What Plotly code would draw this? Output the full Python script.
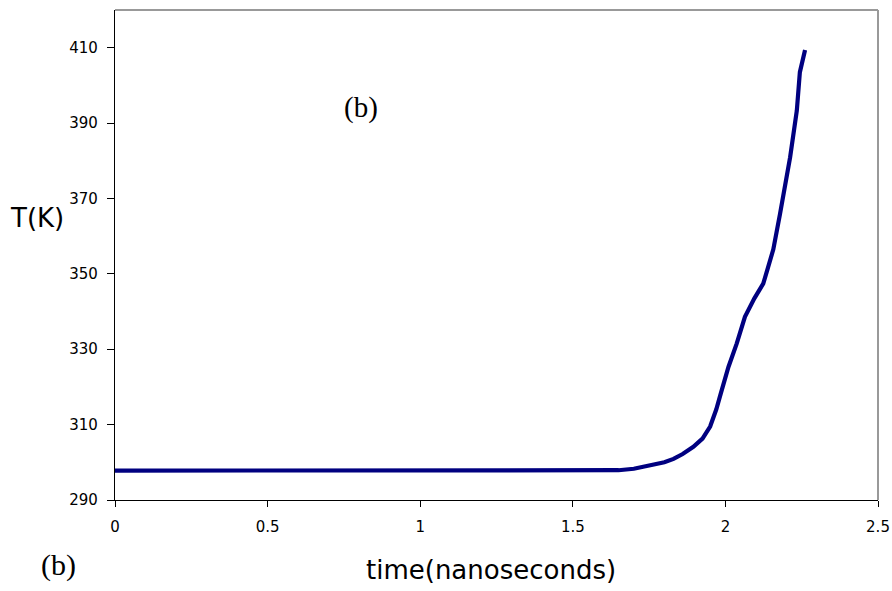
import plotly.graph_objects as go

time_ns = [0, 0.1, 0.2, 0.3, 0.4, 0.5, 0.6, 0.7, 0.8, 0.9, 1.0, 1.1, 1.2, 1.3, 1.4,
           1.5, 1.6, 1.65, 1.7, 1.75, 1.8, 1.83, 1.86, 1.895, 1.925, 1.95, 1.97, 1.985,
           2.01, 2.037, 2.064, 2.095, 2.124, 2.14, 2.157, 2.179, 2.195, 2.212, 2.234,
           2.244, 2.261]
temp_k = [297.8, 297.8, 297.7, 297.7, 297.8, 297.8, 297.7, 297.7, 297.7, 297.7, 297.7,
          297.7, 297.7, 297.7, 297.7, 297.8, 297.8, 297.9, 298.3, 299.1, 300.0, 300.9,
          302.2, 304.1, 306.3, 309.5, 314.0, 318.3, 325.3, 331.5, 338.6, 343.5, 347.4,
          351.8, 356.5, 365.9, 373.0, 380.9, 393.3, 403.5, 409.4]

x_ticks = [0, 0.5, 1, 1.5, 2, 2.5]
x_tick_labels = ["0", "0.5", "1", "1.5", "2", "2.5"]
y_ticks = [290, 310, 330, 350, 370, 390, 410]
y_tick_labels = ["290", "310", "330", "350", "370", "390", "410"]

tick_font = dict(family="DejaVu Sans", size=15, color="black")

fig = go.Figure()
fig.add_trace(go.Scatter(x=time_ns, y=temp_k, mode="lines",
                         line=dict(color="#000080", width=4.2), showlegend=False,
                         hoverinfo="skip"))

fig.update_layout(
    width=892, height=591,
    margin=dict(l=115, r=14, t=10, b=91),
    paper_bgcolor="white", plot_bgcolor="white",
    xaxis=dict(range=[0, 2.5], tickvals=x_ticks, ticktext=x_tick_labels,
               showgrid=False, zeroline=False, showline=True, linecolor="black",
               linewidth=1.3, ticks="outside", ticklen=6, tickwidth=1.3,
               tickcolor="black", tickfont=tick_font, automargin=False,
               ticklabelstandoff=7),
    yaxis=dict(range=[290, 420], tickvals=y_ticks, ticktext=y_tick_labels,
               showgrid=False, zeroline=False, showline=True, linecolor="black",
               linewidth=1.3, ticks="outside", ticklen=7, tickwidth=1.3,
               tickcolor="black", tickfont=tick_font, ticklabelstandoff=6,
               automargin=False),
    shapes=[
        dict(type="line", xref="paper", yref="paper", x0=0, x1=1, y0=1, y1=1,
             line=dict(color="#999999", width=2)),
        dict(type="line", xref="paper", yref="paper", x0=1, x1=1, y0=0, y1=1,
             line=dict(color="#999999", width=2)),
    ],
    annotations=[
        dict(text="T(K)", xref="paper", yref="paper", x=-0.102, y=0.5755,
             showarrow=False, font=dict(family="DejaVu Sans", size=26, color="black"),
             xanchor="center", yanchor="middle"),
        dict(text="time(nanoseconds)", xref="paper", yref="paper", x=0.4928, y=-0.143,
             showarrow=False, font=dict(family="DejaVu Sans", size=26, color="black"),
             xanchor="center", yanchor="middle"),
        dict(text="(b)", xref="paper", yref="paper", x=0.323, y=0.802,
             showarrow=False, font=dict(family="Liberation Serif", size=29, color="black"),
             xanchor="center", yanchor="middle"),
        dict(text="(b)", xref="paper", yref="paper", x=-0.0747, y=-0.133,
             showarrow=False, font=dict(family="Liberation Serif", size=30, color="black"),
             xanchor="center", yanchor="middle"),
    ],
)

fig.write_html("out.html")
